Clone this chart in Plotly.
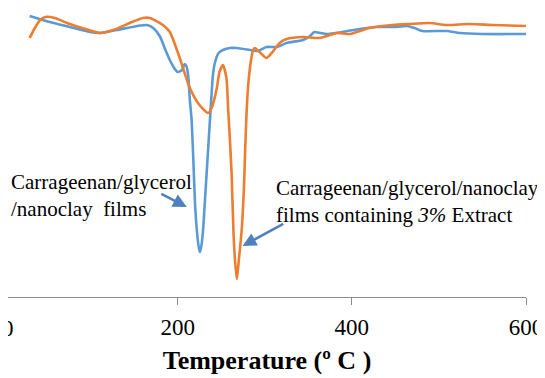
import plotly.graph_objects as go

# Film 1: Carrageenan/glycerol/nanoclay films (DSC heat flow, arbitrary units)
temp_blue = [30, 53, 76, 99, 111, 130, 157, 165, 172, 180, 185, 191, 196, 200, 205, 208, 210, 212,
             214, 216, 218, 220, 222, 224, 225.5, 227, 229, 231, 233.5, 236, 238.5, 240.5, 243, 247, 252,
             260, 268, 283, 291, 297, 302, 314, 325, 344, 352, 357, 364, 371, 389, 409, 428, 451, 463,
             472, 481, 509, 524, 550, 600]
heat_blue = [281, 275, 270, 265, 264, 267, 271.5, 272, 269, 260, 249, 237, 229, 225, 227, 233, 231, 222,
             197, 177, 137, 92, 67, 51, 45, 50, 65, 92, 127, 162, 197, 222, 235, 244, 247,
             249, 249, 247, 246, 248, 250, 250, 254, 257, 261, 265, 264, 263, 265, 268, 270, 270, 271,
             269, 266, 266, 264, 263, 263]

# Film 2: Carrageenan/glycerol/nanoclay films containing 3% extract
temp_orange = [30, 36, 42, 48, 59, 73, 90, 111, 126, 145, 160, 168, 183, 191, 202, 214, 225, 235, 239,
               245, 248, 252, 256, 258, 260, 262, 264, 266, 268, 270, 273.5, 276, 277.5, 279, 281, 283,
               286, 288.5, 294, 302, 309, 317, 325, 344, 363, 383, 398, 420, 447, 466, 489, 509, 535,
               562, 600]
heat_orange = [259, 269, 277, 280, 279, 274, 269, 264, 267, 274, 279, 279, 272, 265, 240, 209, 192, 184, 189,
               209, 225, 232, 219, 187, 157, 122, 67, 35, 18, 35, 67, 107, 147, 182, 212, 229,
               245, 249, 245, 239, 245, 254, 258, 260, 259, 264, 263, 269, 272, 273, 274, 272, 273,
               272, 271]

x_ticks = [0, 200, 400, 600]

FONT = "Liberation Serif, Times New Roman, serif"
BLUE = "#5B9BD5"
ORANGE = "#ED7D31"
ARROW = "#4F81BD"

fig = go.Figure()
fig.add_trace(go.Scatter(x=temp_blue, y=heat_blue, mode="lines",
                         line=dict(color=BLUE, width=2.6, shape="spline", smoothing=0.6),
                         hoverinfo="skip", showlegend=False, cliponaxis=False))
fig.add_trace(go.Scatter(x=temp_orange, y=heat_orange, mode="lines",
                         line=dict(color=ORANGE, width=2.6, shape="spline", smoothing=0.6),
                         hoverinfo="skip", showlegend=False, cliponaxis=False))

fig.add_annotation(x=6.5, y=102, xref="x", yref="y", xanchor="left", yanchor="middle",
                   text="Carrageenan/glycerol<br>/nanoclay&nbsp;&nbsp;films", showarrow=False,
                   align="left", font=dict(family=FONT, size=21, color="black"))
fig.add_annotation(x=310.5, y=96, xref="x", yref="y", xanchor="left", yanchor="middle",
                   text="Carrageenan/glycerol/nanoclay<br>films containing <i>3%</i> Extract",
                   showarrow=False, align="left", font=dict(family=FONT, size=21, color="black"))

fig.add_annotation(x=210.5, y=90, xref="x", yref="y", ax=179.5, ay=104, axref="x", ayref="y",
                   text="", showarrow=True, arrowhead=2, arrowsize=1.1, arrowwidth=2.5,
                   arrowcolor=ARROW)
fig.add_annotation(x=274.5, y=51, xref="x", yref="y", ax=323, ay=74, axref="x", ayref="y",
                   text="", showarrow=True, arrowhead=2, arrowsize=1.1, arrowwidth=2.5,
                   arrowcolor=ARROW)

# the "0" tick label sits at the very left edge of the chart (partly cut off)
fig.add_annotation(x=0, y=0, xref="paper", yref="paper", xanchor="center", yanchor="middle",
                   yshift=-31, text=str(x_ticks[0]), showarrow=False,
                   font=dict(family=FONT, size=23, color="black"))

fig.update_layout(
    width=537, height=370,
    margin=dict(l=0, r=19, t=0, b=81, autoexpand=False),
    paper_bgcolor="white", plot_bgcolor="white",
    xaxis=dict(range=[5.16, 600], tickvals=x_ticks, ticktext=[str(t) for t in x_ticks],
               automargin=False, ticklabeloverflow="allow", ticklabelstandoff=2,
               showgrid=False, zeroline=False, showline=True, linecolor="#8C8C8C", linewidth=1.3,
               ticks="outside", ticklen=7, tickcolor="#8C8C8C", tickwidth=1.3,
               tickfont=dict(family=FONT, size=23, color="black"),
               title=dict(text="<b>Temperature (º C )</b>", standoff=12,
                          font=dict(family=FONT, size=26, color="black"))),
    yaxis=dict(range=[0, 289], visible=False, showgrid=False, zeroline=False, automargin=False),
)

fig.write_html("out.html")
